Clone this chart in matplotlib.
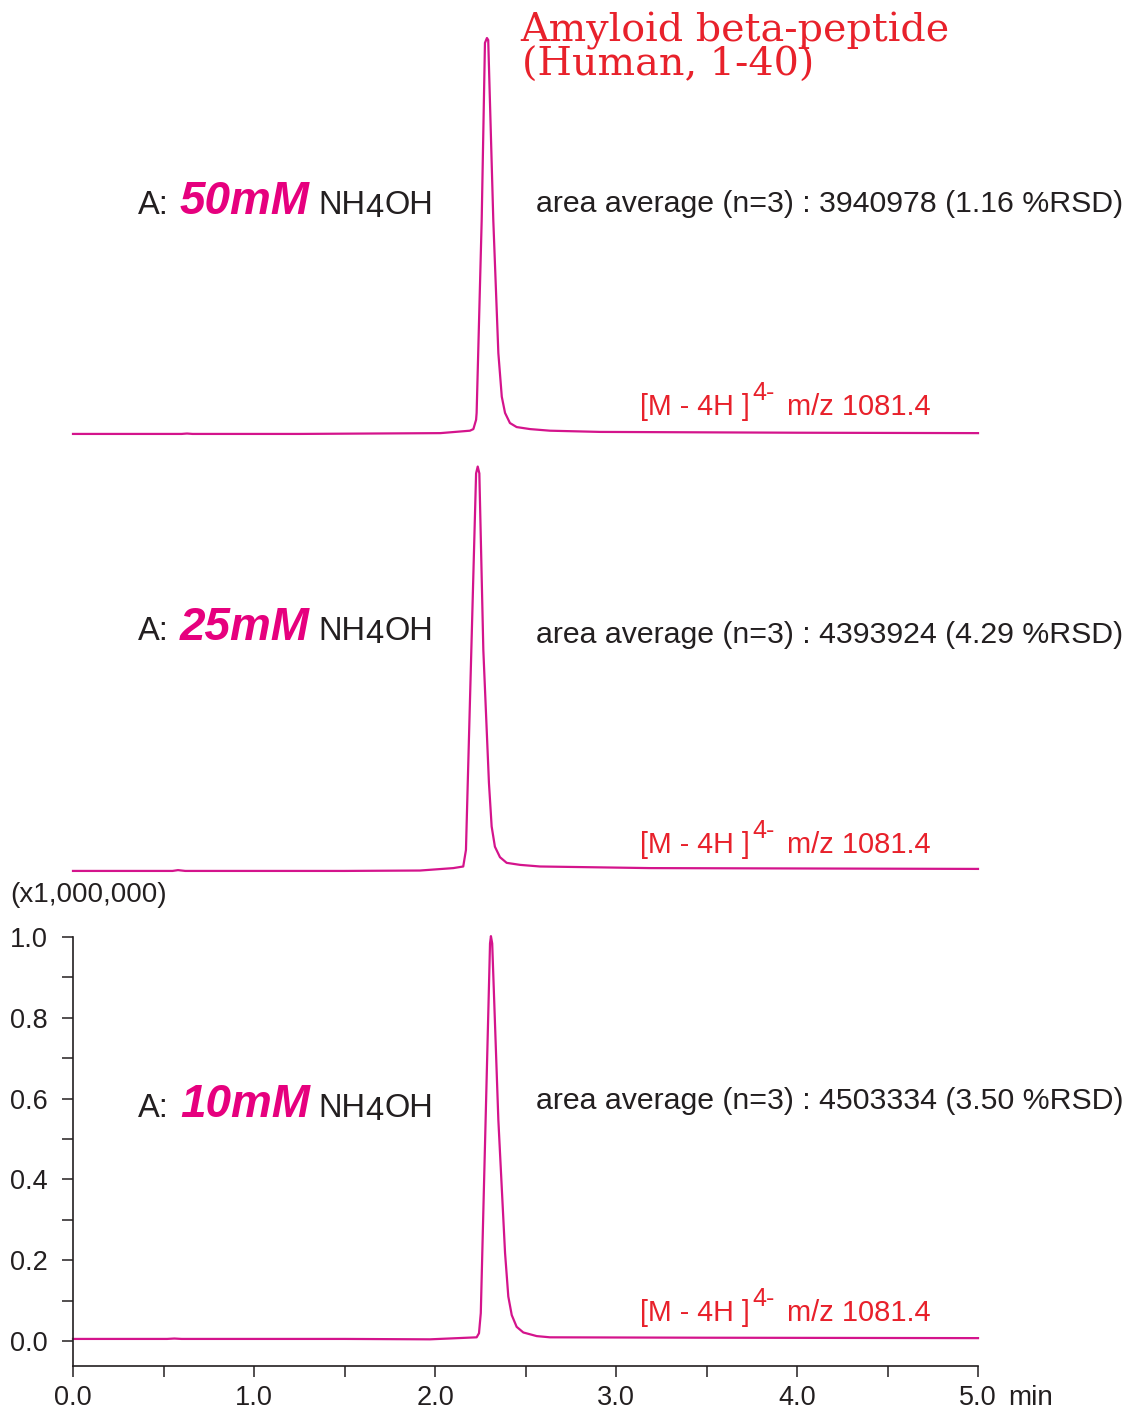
import matplotlib.pyplot as plt
from matplotlib.ticker import MultipleLocator, FixedLocator

plt.rcParams['font.family'] = ['Liberation Sans', 'DejaVu Sans']

# retention time (min) and intensity (x1,000,000)
t_50 = [0.00, 0.60, 0.63, 0.66, 1.25, 2.03, 2.193, 2.212, 2.227, 2.230, 2.258, 2.276,
        2.287, 2.294, 2.322, 2.350, 2.369, 2.387, 2.414, 2.451, 2.525, 2.635, 2.912,
        4.00, 5.00]
i_50 = [0.005, 0.005, 0.006, 0.005, 0.005, 0.007, 0.013, 0.017, 0.040, 0.057, 0.535, 0.973,
        0.985, 0.980, 0.535, 0.205, 0.097, 0.057, 0.032, 0.022, 0.017, 0.013, 0.010,
        0.008, 0.007]

t_25 = [0.00, 0.55, 0.58, 0.62, 1.50, 1.917, 2.101, 2.156, 2.171, 2.227, 2.236, 2.245,
        2.267, 2.298, 2.313, 2.331, 2.359, 2.396, 2.470, 2.580, 3.188, 5.00]
i_25 = [0.005, 0.005, 0.007, 0.005, 0.005, 0.006, 0.012, 0.016, 0.057, 0.989, 1.006, 0.989,
        0.552, 0.223, 0.115, 0.065, 0.039, 0.025, 0.020, 0.016, 0.012, 0.010]

t_10 = [0.00, 0.52, 0.56, 0.60, 1.50, 1.972, 2.230, 2.243, 2.253, 2.304, 2.309, 2.316,
        2.350, 2.387, 2.405, 2.424, 2.451, 2.488, 2.562, 2.635, 3.50, 5.00]
i_10 = [0.005, 0.005, 0.006, 0.005, 0.005, 0.004, 0.009, 0.019, 0.069, 0.984, 1.002, 0.984,
        0.547, 0.218, 0.110, 0.064, 0.035, 0.021, 0.012, 0.009, 0.008, 0.007]

conc = ['50mM', '25mM', '10mM']
areas = ['3940978', '4393924', '4503334']
rsd = ['1.16', '4.29', '3.50']

W, H = 1127, 1409
LINE = '#d4148c'
MAG = '#e6007e'
RED = '#e8212b'
INK = '#231f20'

fig = plt.figure(figsize=(W / 100, H / 100), dpi=100)


def fx(x):
    return x / W


def fy(y):
    return 1 - y / H


ylo, yhi = -0.062, 1.1
ax_h = (yhi - ylo) * 404 / H
bottoms_px = [461, 898, 1366]
axes = []
for b in bottoms_px:
    ax = fig.add_axes([fx(73), fy(b), 905 / W, ax_h])
    ax.set_xlim(0, 5)
    ax.set_ylim(ylo, yhi)
    ax.patch.set_alpha(0)
    axes.append(ax)

for ax, t, v in zip(axes, [t_50, t_25, t_10], [i_50, i_25, i_10]):
    ax.plot(t, v, color=LINE, lw=1.6, clip_on=False, solid_joinstyle='round')

for ax in axes[:2]:
    ax.axis('off')

ax = axes[2]
for s in ['top', 'right']:
    ax.spines[s].set_visible(False)
for s in ['left', 'bottom']:
    ax.spines[s].set_color(INK)
    ax.spines[s].set_linewidth(1.2)
ax.spines['left'].set_bounds(ylo, 1.0)
ax.yaxis.set_major_locator(FixedLocator([0.0, 0.2, 0.4, 0.6, 0.8, 1.0]))
ax.yaxis.set_minor_locator(FixedLocator([0.1, 0.3, 0.5, 0.7, 0.9]))
ax.xaxis.set_major_locator(MultipleLocator(1.0))
ax.xaxis.set_minor_locator(MultipleLocator(0.5))
ax.tick_params(which='both', direction='out', length=8, width=1.1, color=INK)
ax.tick_params(axis='y', labelsize=19.5, pad=10, labelcolor=INK)
ax.tick_params(axis='x', labelsize=19.5, pad=6, labelcolor=INK)
ax.set_yticklabels(['0.0', '0.2', '0.4', '0.6', '0.8', '1.0'])
ax.set_xticks([0, 1, 2, 3, 4, 5])
ax.set_xticklabels(['0.0', '1.0', '2.0', '3.0', '4.0', '5.0'])
ax.set_ylim(ylo, yhi)

fig.text(fx(1008), fy(1405), 'min', fontsize=20, color=INK, va='baseline')
fig.text(fx(10), fy(902), '(x1,000,000)', fontsize=20, color=INK, va='baseline')

# title
fig.text(fx(520), fy(42), 'Amyloid beta-peptide', fontsize=28.5, color=RED,
         family='DejaVu Serif', va='baseline')
fig.text(fx(522), fy(76), '(Human, 1-40)', fontsize=28.5, color=RED,
         family='DejaVu Serif', va='baseline')

renderer = fig.canvas.get_renderer()


def run(pieces, x0, y0):
    # place text pieces one after another, measuring each width
    x = x0
    for s, dy, gap, kw in pieces:
        t = fig.text(fx(x), fy(y0 + dy), s, va='baseline', **kw)
        x = t.get_window_extent(renderer).x1 + gap


label_base = [214, 640, 1117]
area_base = [212, 643, 1109]
ion_base = [415, 853, 1321]
for k in range(3):
    yb = label_base[k]
    fig.text(fx(138), fy(yb), 'A:', fontsize=23.5, color=INK, va='baseline')
    fig.text(fx(180), fy(yb), conc[k], fontsize=33, color=MAG, va='baseline',
             weight='bold', style='italic')
    run([('NH', 0, 0, dict(fontsize=23.5, color=INK)),
         ('4', 3, 1, dict(fontsize=23.5, color=INK)),
         ('OH', 0, 0, dict(fontsize=23.5, color=INK))], 318, yb)

    fig.text(fx(536), fy(area_base[k]),
             'area average (n=3) : %s (%s %%RSD)' % (areas[k], rsd[k]),
             fontsize=21.8, color=INK, va='baseline')

    yb = ion_base[k]
    fig.text(fx(640), fy(yb), '[M - 4H ]', fontsize=20.6, color=RED, va='baseline')
    fig.text(fx(752), fy(yb - 15), '4-', fontsize=18, color=RED, va='baseline')
    fig.text(fx(787), fy(yb), 'm/z 1081.4', fontsize=21, color=RED, va='baseline')

fig.savefig('out.png', dpi=100)
